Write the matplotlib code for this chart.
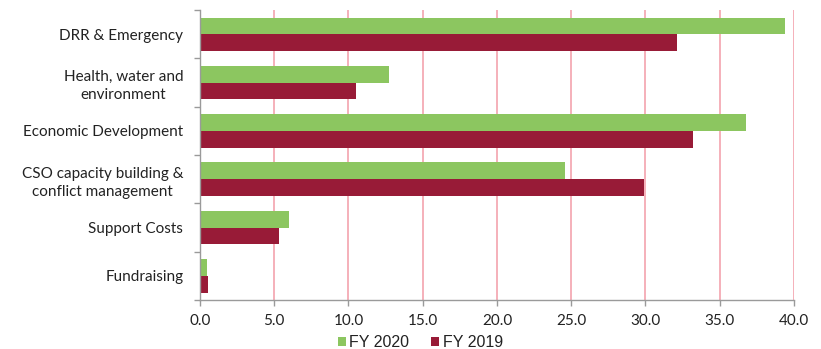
import numpy as np
import matplotlib.pyplot as plt
from matplotlib.ticker import FixedLocator, NullFormatter

categories = ["DRR & Emergency", "Health, water and\nenvironment", "Economic Development",
              "CSO capacity building &\nconflict management", "Support Costs", "Fundraising"]
fy2020 = [39.4, 12.7, 36.8, 24.6, 6.0, 0.5]
fy2019 = [32.1, 10.5, 33.2, 29.9, 5.35, 0.55]
xticks = [0, 5, 10, 15, 20, 25, 30, 35, 40]

green = "#8cc660"
maroon = "#981b37"
grid_pink = "#f4a3ae"
axis_grey = "#9a9a9a"

fig = plt.figure(figsize=(8.21, 3.49), dpi=100)
ax = fig.add_axes([0.2436, 0.1404, 0.7234, 0.8309])

y = np.arange(len(categories))
h = 0.345
ax.barh(y - h / 2, fy2020, height=h, color=green, label="FY 2020", zorder=3)
ax.barh(y + h / 2, fy2019, height=h, color=maroon, label="FY 2019", zorder=3)

ax.set_xlim(0, 40)
ax.set_ylim(len(categories) - 0.5, -0.5)
ax.set_xticks(xticks)
ax.set_xticklabels([f"{v:.1f}" for v in xticks], fontsize=11, family="Lato", color="#222222")
ax.set_yticks(y)
ax.set_yticklabels(categories, fontsize=11, family="Lato", color="#222222",
                   multialignment="center", linespacing=1.4)
ax.tick_params(axis="y", length=0, pad=12)
ax.yaxis.set_minor_locator(FixedLocator(np.arange(-0.5, len(categories), 1.0)))
ax.yaxis.set_minor_formatter(NullFormatter())
ax.tick_params(axis="y", which="minor", length=4, color=axis_grey, width=1)
ax.tick_params(axis="x", length=4, color=axis_grey, width=1, pad=6)

ax.grid(axis="x", color=grid_pink, linewidth=1.2, zorder=0)
for s in ["top", "right"]:
    ax.spines[s].set_visible(False)
for s in ["left", "bottom"]:
    ax.spines[s].set_color(axis_grey)
    ax.spines[s].set_linewidth(1)
ax.spines["left"].set_zorder(4)

leg = fig.legend(loc="lower center", bbox_to_anchor=(0.512, -0.045), ncol=2, frameon=False,
                 prop={"family": "Liberation Sans", "size": 11.5}, handlelength=0.5,
                 handleheight=0.5, handletextpad=0.2, columnspacing=1.4)
for t in leg.get_texts():
    t.set_color("#222222")

fig.savefig("out.png", dpi=100)
